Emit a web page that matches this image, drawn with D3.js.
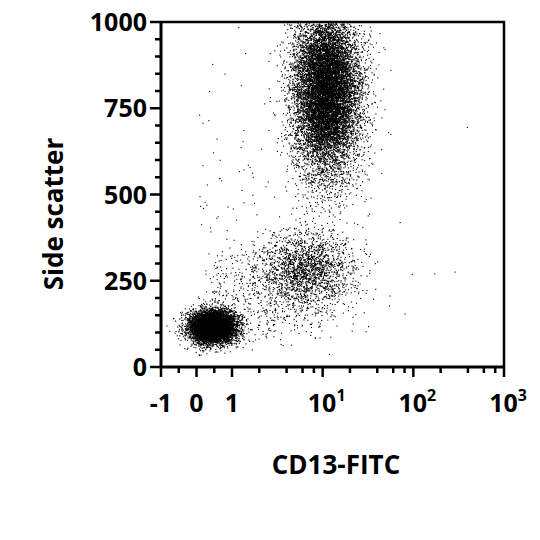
<!DOCTYPE html>
<html><head><meta charset="utf-8">
<script src="https://cdn.jsdelivr.net/npm/d3@7"></script>
<style>body{margin:0;background:#fff}text{font-family:"Open Sans",sans-serif;font-weight:700;fill:#000}</style>
</head><body><svg id="c" width="540" height="540"></svg>
<script>
// populations: [name, x centre, log10 spread (or linear sd), y centre, y sd, count, log?]
var popNames = ["lymph", "mono", "gran", "bridge", "debris"];
var popX = [0.45, 6.5, 11, 3, 3];
var popXsd = [0.33, 0.26, 0.18, 0.4, 0.7];
var popY = [118, 290, 800, 210, 500];
var popYsd = [24, 55, 120, 70, 260];
var popN = [6500, 1800, 12000, 700, 120];
var popLog = [false, true, true, true, true];
var xTicks = [-1, 0, 1, 10, 100, 1000];
var xTickLabels = ["-1", "0", "1", "10|1", "10|2", "10|3"];
var yTicks = [0, 250, 500, 750, 1000];

var svg = d3.select("#c");
var L = 161, R = 504, T = 22, B = 367;
var xLin = d3.scaleLinear().domain([-1, 1]).range([L, 232]);
var xLog = d3.scaleLog().domain([1, 1000]).range([232, R]);
var x = function(v){ return v <= 1 ? xLin(v) : xLog(v); };
var y = d3.scaleLinear().domain([0, 1000]).range([B, T]);

var rnd = d3.randomNormal.source(d3.randomLcg(0.42));
var pts = svg.append("g");
popNames.forEach(function(name, i){
	var gx = rnd(0, popXsd[i]), gy = rnd(popY[i], popYsd[i]);
	for (var k = 0; k < popN[i]; k++) {
		var px = popLog[i] ? x(Math.pow(10, Math.log10(popX[i]) + gx())) : x(popX[i] + gx());
		var py = y(gy());
		if (px < L + 2 || px > R - 1 || py < T + 1 || py > B - 1) continue;
		pts.append("rect").attr("x", px).attr("y", py).attr("width", 1.1).attr("height", 1.1);
	}
});

// frame: left & bottom heavy, top & right thinner
svg.append("path").attr("d", "M"+L+","+T+"H"+R+"V"+B).attr("fill","none").attr("stroke","#000").attr("stroke-width",2.5);
svg.append("path").attr("d", "M"+L+","+(T-1)+"V"+B+"H"+(R+1)).attr("fill","none").attr("stroke","#000").attr("stroke-width",3);

// y ticks
d3.range(0, 1001, 50).forEach(function(v){
	var major = v % 250 === 0;
	svg.append("line").attr("x1", L).attr("x2", L - (major ? 11 : 6)).attr("y1", y(v)).attr("y2", y(v)).attr("stroke","#000").attr("stroke-width",2.5);
});
yTicks.forEach(function(v){
	svg.append("text").attr("x", L - 14).attr("y", y(v) + 9).attr("text-anchor","end").style("font-size","25px").text(v);
});

// x ticks
var minor = [];
[1, 10, 100].forEach(function(d){ [2,4,6,8].forEach(function(m){ minor.push(d*m); }); });
minor.concat([-0.5, 0.5]).forEach(function(v){
	svg.append("line").attr("x1", x(v)).attr("x2", x(v)).attr("y1", B).attr("y2", B + 6).attr("stroke","#000").attr("stroke-width",2.5);
});
xTicks.forEach(function(v, i){
	svg.append("line").attr("x1", x(v)).attr("x2", x(v)).attr("y1", B).attr("y2", B + 10).attr("stroke","#000").attr("stroke-width",2.5);
	var parts = xTickLabels[i].split("|");
	var t = svg.append("text").attr("x", x(v) + (parts[1] ? 4 : 0)).attr("y", B + 45).attr("text-anchor","middle").style("font-size","25px");
	t.append("tspan").text(parts[0]);
	if (parts[1]) t.append("tspan").attr("dy", -11).style("font-size","16px").text(parts[1]);
});

svg.append("text").attr("transform","translate(63,214) rotate(-90)").attr("text-anchor","middle").style("font-size","26px").text("Side scatter");
svg.append("text").attr("x", 336).attr("y", 474).attr("text-anchor","middle").style("font-size","26px").text("CD13-FITC");
</script></body></html>
